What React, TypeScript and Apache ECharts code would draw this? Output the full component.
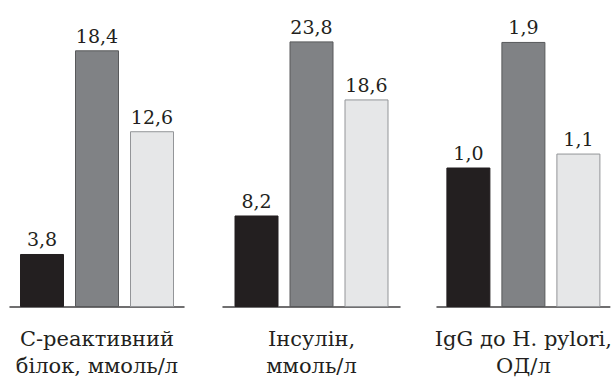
import React, { useEffect, useRef } from "react";
import * as echarts from "echarts";

const categories = ["С-реактивний\nбілок, ммоль/л", "Інсулін,\nммоль/л", "IgG до H. pylori,\nОД/л"];
const seriesA = [3.8, 8.2, 1.0];
const seriesB = [18.4, 23.8, 1.9];
const seriesC = [12.6, 18.6, 1.1];
const axisMax = [20, 25, 2];

const gridLefts = [10, 223, 437];
const gridWidths = [174, 177, 178];

const styles = [
  { color: "#231f20", borderColor: "#231f20" },
  { color: "#808285", borderColor: "#58595b" },
  { color: "#e6e7e8", borderColor: "#939598" },
];

export default function App() {
  const ref = useRef<HTMLDivElement>(null);
  useEffect(() => {
    const chart = echarts.init(ref.current!, null, { renderer: "svg" });
    const font = "'DejaVu Serif', serif";
    const grids = categories.map((_, i) => ({
      left: gridLefts[i],
      width: gridWidths[i],
      top: 28,
      bottom: 80,
    }));
    const xAxes = categories.map((c, i) => ({
      type: "category",
      gridIndex: i,
      data: [c],
      axisLine: { show: true, lineStyle: { color: "#414042", width: 1.5 } },
      axisTick: { show: false },
      axisLabel: {
        color: "#231f20",
        fontFamily: font,
        fontSize: 21,
        lineHeight: 27,
        margin: 18,
      },
    }));
    const yAxes = categories.map((_, i) => ({
      type: "value",
      gridIndex: i,
      min: 0,
      max: axisMax[i],
      show: false,
      splitLine: { show: false },
    }));
    const series: any[] = [];
    const all = [seriesA, seriesB, seriesC];
    categories.forEach((_, i) => {
      all.forEach((arr, k) => {
        series.push({
          type: "bar",
          xAxisIndex: i,
          yAxisIndex: i,
          data: [arr[i]],
          barWidth: 44,
          barGap: "25%",
          itemStyle: { ...styles[k], borderWidth: 1 },
          label: {
            show: true,
            position: "top",
            distance: 5,
            color: "#231f20",
            fontFamily: font,
            fontSize: 19,
            formatter: (p: any) => p.value.toFixed(1).replace(".", ","),
          },
        });
      });
    });
    chart.setOption({
      animation: false,
      backgroundColor: "#ffffff",
      grid: grids,
      xAxis: xAxes,
      yAxis: yAxes,
      series,
    });
    return () => chart.dispose();
  }, []);
  return (
    <div
      ref={ref}
      style={{ position: "fixed", left: 0, top: 0, width: 615, height: 387 }}
    />
  );
}
